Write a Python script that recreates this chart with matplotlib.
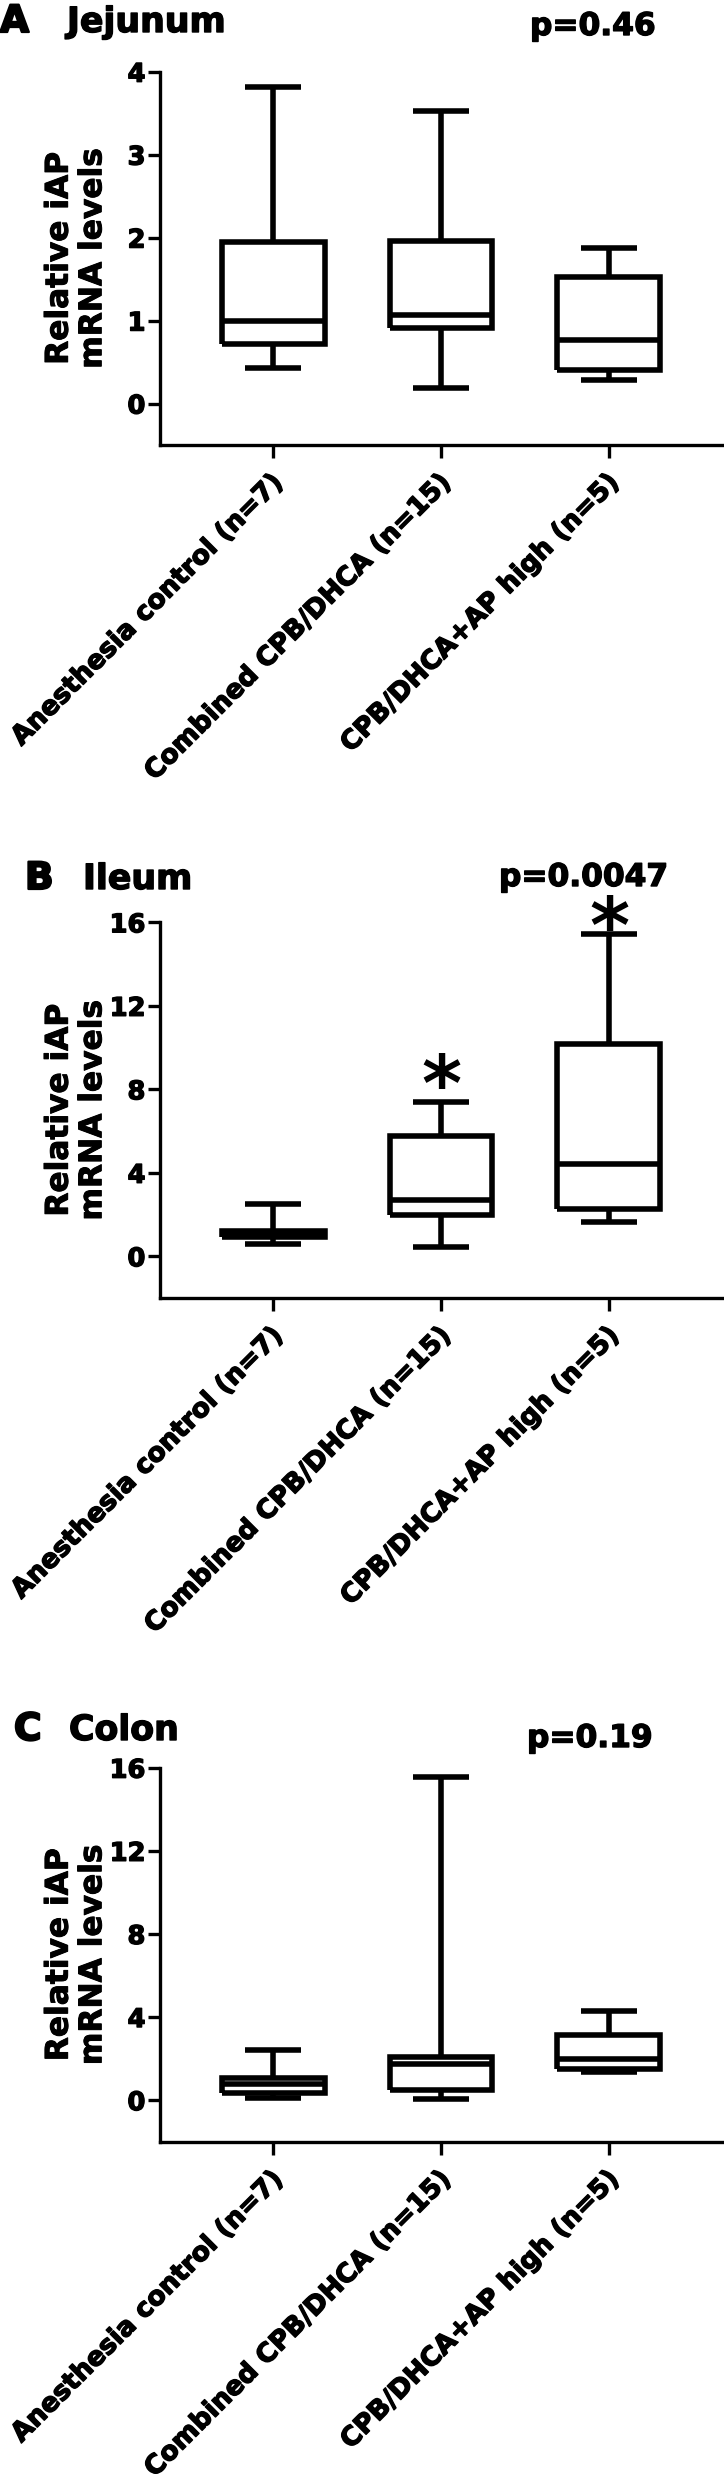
import matplotlib
matplotlib.use("Agg")
import matplotlib.pyplot as plt
import matplotlib.transforms as mtransforms
import matplotlib.patheffects as pe

W, H = 724, 2481
DPI = 100

groups = ["Anesthesia control (n=7)", "Combined CPB/DHCA (n=15)", "CPB/DHCA+AP high (n=5)"]

# box statistics: lower whisker, q1, median, q3, upper whisker
jej_lo = [0.43, 0.19, 0.28]
jej_q1 = [0.72, 0.91, 0.40]
jej_med = [1.00, 1.07, 0.76]
jej_q3 = [1.95, 1.96, 1.52]
jej_hi = [3.81, 3.53, 1.87]

ile_lo = [0.60, 0.43, 1.63]
ile_q1 = [0.90, 1.99, 2.25]
ile_med = [1.05, 2.71, 4.40]
ile_q3 = [1.22, 5.76, 10.19]
ile_hi = [2.51, 7.39, 15.43]

col_lo = [0.10, 0.05, 1.35]
col_q1 = [0.35, 0.50, 1.50]
col_med = [0.80, 1.75, 2.00]
col_q3 = [1.08, 2.07, 3.15]
col_hi = [2.42, 15.55, 4.28]

# significance stars (group index, y)
ile_star_x = [1, 2]
ile_star_y = [9.0, 16.6]

plt.rcParams["font.family"] = "DejaVu Sans"

# a thin outline to get closer to the heavy lettering of the original
light = [pe.withStroke(linewidth=0.7, foreground="black")]
heavy = [pe.withStroke(linewidth=1.0, foreground="black")]
heavier = [pe.withStroke(linewidth=1.6, foreground="black")]


def fx(px):
    return px / W


def fy(py):
    return 1 - py / H


fig = plt.figure(figsize=(W / DPI, H / DPI), dpi=DPI)

panels = [
    dict(letter="A", lx=0, name="Jejunum", nx=67, tb=32, p="p=0.46", px=530, pb=35,
         top=71.7, bottom=445, ylim=(-0.5, 4), ticks=[0, 1, 2, 3, 4],
         lo=jej_lo, q1=jej_q1, med=jej_med, q3=jej_q3, hi=jej_hi, stars=None),
    dict(letter="B", lx=25, name="Ileum", nx=83, tb=889, p="p=0.0047", px=499, pb=886,
         top=922.3, bottom=1298, ylim=(-2, 16), ticks=[0, 4, 8, 12, 16],
         lo=ile_lo, q1=ile_q1, med=ile_med, q3=ile_q3, hi=ile_hi,
         stars=(ile_star_x, ile_star_y)),
    dict(letter="C", lx=14, name="Colon", nx=69, tb=1740, p="p=0.19", px=527, pb=1747,
         top=1767.7, bottom=2141.7, ylim=(-2, 16), ticks=[0, 4, 8, 12, 16],
         lo=col_lo, q1=col_q1, med=col_med, q3=col_q3, hi=col_hi, stars=None),
]

left_px = 159.5
lw_box = 4.0
lw_spine = 2.4

for pnl in panels:
    ax = fig.add_axes([fx(left_px), fy(pnl["bottom"]), (W - left_px) / W,
                       (pnl["bottom"] - pnl["top"]) / H])
    stats = []
    for i in range(3):
        stats.append(dict(med=pnl["med"][i], q1=pnl["q1"][i], q3=pnl["q3"][i],
                          whislo=pnl["lo"][i], whishi=pnl["hi"][i], fliers=[]))
    line_kw = dict(color="black", linewidth=lw_box, solid_capstyle="butt",
                   solid_joinstyle="miter")
    ax.bxp(stats, positions=[0, 1, 2], widths=0.613, capwidths=0.33,
           showfliers=False, manage_ticks=False,
           boxprops=line_kw, medianprops=line_kw, whiskerprops=line_kw, capprops=line_kw)

    ax.set_xlim(-0.676, 2.685)
    ax.set_ylim(*pnl["ylim"])
    ax.set_yticks(pnl["ticks"])
    ax.set_yticklabels([str(t) for t in pnl["ticks"]], fontsize=18.5, fontweight="bold")
    ax.set_xticks([0, 1, 2])
    ax.tick_params(axis="y", length=8.6, width=lw_spine, pad=1.5)
    ax.tick_params(axis="x", length=9.4, width=lw_spine, pad=15)
    ax.set_xticklabels(groups, rotation=45, ha="right", va="center",
                       rotation_mode="anchor", fontsize=19, fontweight="bold")
    off = mtransforms.ScaledTranslation(6 / DPI, 0, fig.dpi_scale_trans)
    for lab in ax.get_xticklabels():
        lab.set_transform(lab.get_transform() + off)
        lab.set_path_effects(heavy)
    for lab in ax.get_yticklabels():
        lab.set_path_effects(heavy)

    for s in ["top", "right"]:
        ax.spines[s].set_visible(False)
    for s in ["left", "bottom"]:
        ax.spines[s].set_linewidth(lw_spine)
    ax.patch.set_alpha(0)

    if pnl["stars"] is not None:
        fs = 55
        star_off = mtransforms.ScaledTranslation(0, -0.55 * fs / 72, fig.dpi_scale_trans)
        for sx, sy in zip(*pnl["stars"]):
            ax.text(sx, sy, "*", fontsize=fs, fontweight="bold", ha="center",
                    va="baseline", transform=ax.transData + star_off, clip_on=False)

    mid = (pnl["top"] + pnl["bottom"]) / 2
    fig.text(fx(76), fy(mid), "Relative iAP\nmRNA levels", rotation=90,
             ha="center", va="center", fontsize=22.5, fontweight="bold",
             linespacing=1.2, multialignment="center", path_effects=light)

    fig.text(fx(pnl["lx"]), fy(pnl["tb"]), pnl["letter"], fontsize=27,
             fontweight="bold", ha="left", va="baseline", path_effects=heavier)
    fig.text(fx(pnl["nx"]), fy(pnl["tb"]), pnl["name"], fontsize=25,
             fontweight="bold", ha="left", va="baseline", path_effects=heavy)
    fig.text(fx(pnl["px"]), fy(pnl["pb"]), pnl["p"], fontsize=22.5,
             fontweight="bold", ha="left", va="baseline", path_effects=heavy)

fig.savefig("out.png", dpi=DPI, facecolor="white")
